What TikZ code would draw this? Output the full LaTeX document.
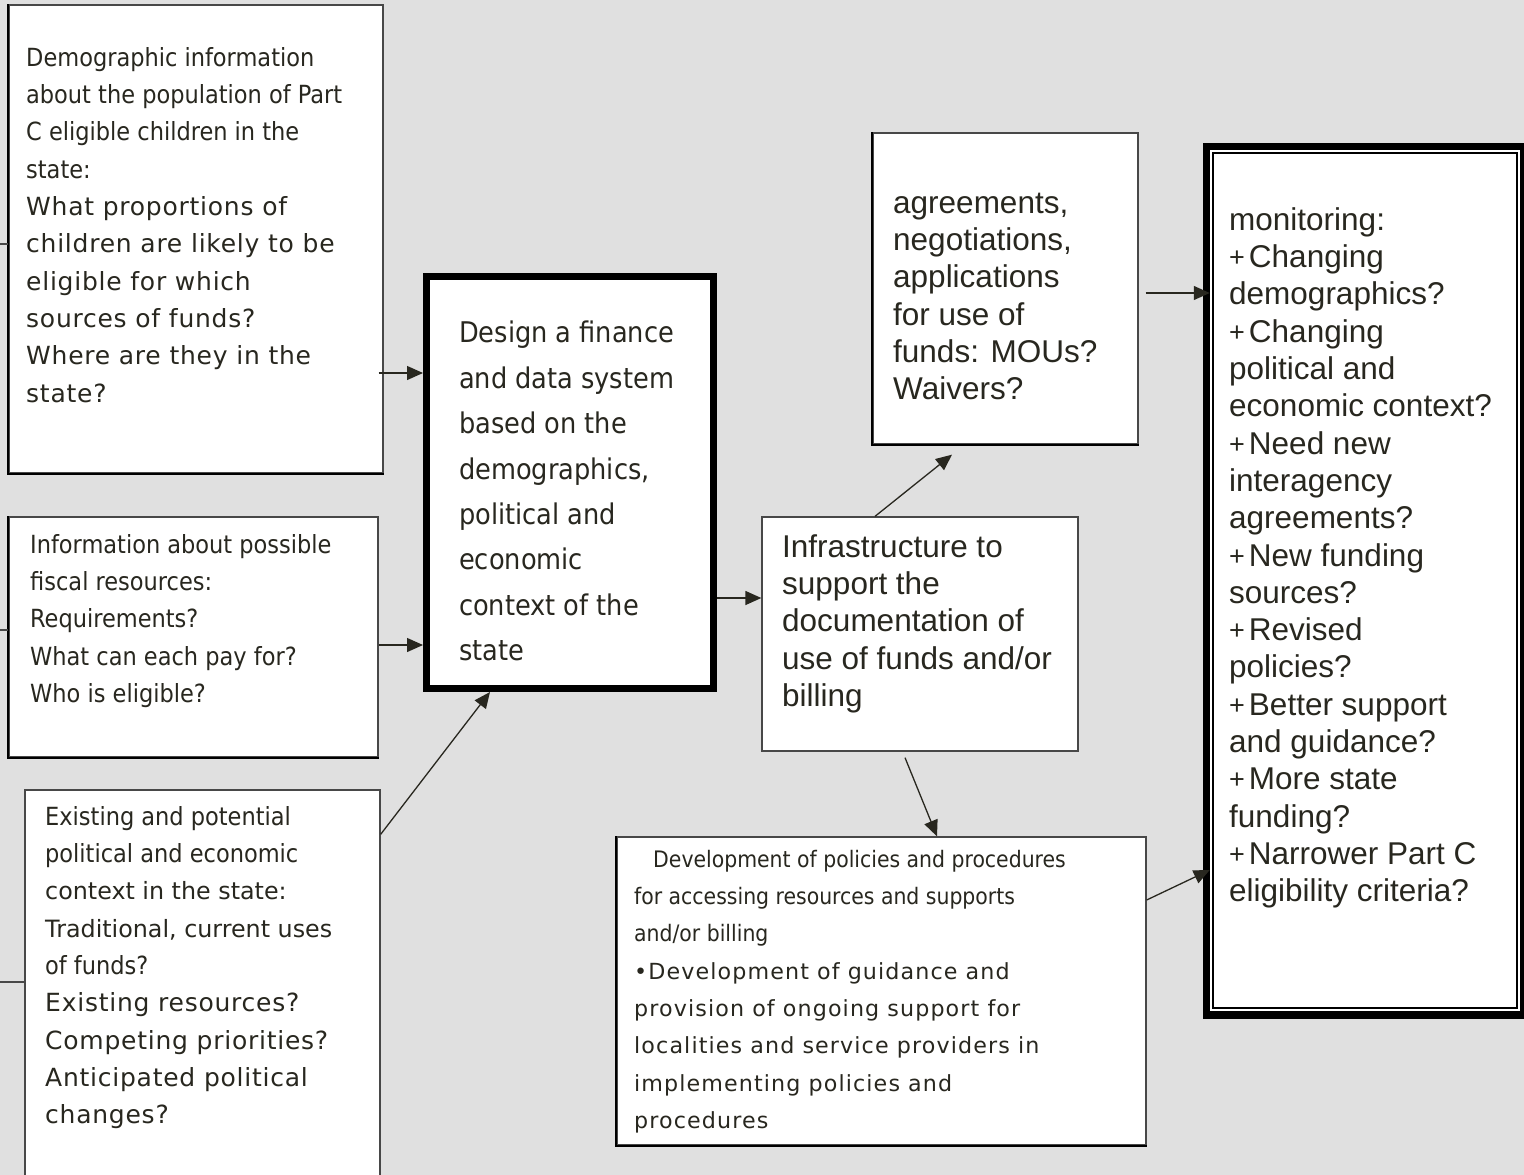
\documentclass[tikz,border=0pt]{standalone}
\usepackage{fontspec}
\setmainfont{Liberation Sans}
\newfontfamily\condfont{DejaVu Sans Condensed}
\newfontfamily\plainfont{DejaVu Sans}
\newfontfamily\widefont{DejaVu Sans}[LetterSpace=3]
\newfontfamily\widerfont{DejaVu Sans}[LetterSpace=5]
\usetikzlibrary{arrows.meta}

\definecolor{bg}{RGB}{224,224,224}
\definecolor{ink}{RGB}{40,39,31}
\definecolor{rim}{RGB}{72,72,72}

% line fonts
\newcommand\condA{\condfont\fontsize{25}{37.3}\selectfont}
\newcommand\wideA{\widefont\fontsize{25}{37.3}\selectfont}
\newcommand\plainA{\plainfont\fontsize{23.8}{37.3}\selectfont}
\newcommand\condG{\condfont\fontsize{22.7}{37.3}\selectfont}
\newcommand\wideG{\widerfont\fontsize{22.2}{37.3}\selectfont}
\newcommand\mainE{\rmfamily\fontsize{31.5}{37.3}\selectfont}
\newcommand\pl{\raisebox{1pt}{\fontsize{27}{27}\selectfont+}\kern4pt}

\tikzset{
  box/.style={draw=rim, line width=1.3pt, fill=white, inner sep=0pt, anchor=center},
  heavybox/.style={box, draw=black},
  txt/.style={inner sep=0pt, align=left, text=ink, anchor=north west,
              font=\fontsize{25}{37.3}\selectfont},
  conn/.style={draw=ink, line width=1.3pt, -{Triangle[length=16pt,width=14pt]}},
  stub/.style={draw=rim, line width=1.3pt},
  edge/.style={draw=black, line width=2.2pt}
}

\begin{document}
\begin{tikzpicture}[x=1pt, y=-1pt]
  \useasboundingbox (0,0) rectangle (1524,1175);
  \fill[bg] (0,0) rectangle (1524,1175);

  % input boxes
  \node[box, minimum width=374pt, minimum height=468pt] (A) at (196,239) {};
  \node[box, minimum width=369pt, minimum height=240pt] (B) at (193.5,637) {};
  \node[box, minimum width=355pt, minimum height=390pt] (C) at (202.5,985) {};
  % design box
  \node[heavybox, line width=7pt, minimum width=287pt, minimum height=412pt] (D) at (570,482.5) {};
  % infrastructure, agreements, policies
  \node[box, minimum width=316pt, minimum height=234pt] (E) at (920,634) {};
  \node[box, minimum width=265pt, minimum height=311pt] (F) at (1005.5,288.5) {};
  \node[box, minimum width=529pt, minimum height=308pt] (G) at (881.5,991) {};
  % monitoring box with double frame
  \node[heavybox, line width=7.5pt, minimum width=317pt, minimum height=868.5pt] (H) at (1365,580.75) {};
  \draw[black, line width=1.2pt] ([xshift=10.25pt,yshift=-10.25pt]H.north west)
        rectangle ([xshift=-10.25pt,yshift=10.75pt]H.south east);

  % darker left and bottom edges
  \draw[edge] (A.north west) -- (A.south west) -- (A.south east);
  \draw[edge] (B.north west) -- (B.south west) -- (B.south east);
  \draw[edge] (F.north west) -- (F.south west) -- (F.south east);
  \draw[edge] (G.north west) -- (G.south west) -- (G.south east);

  % stubs on the left margin
  \draw[stub] ([yshift=-5pt]A.west) -- ++(-10,0);
  \draw[stub] ([yshift=7pt]B.west) -- ++(-10,0);
  \draw[stub] ([yshift=3pt]C.west) -- ++(-26,0);

  % texts
  \node[txt] (At) at (26,40) {%
    \condA\strut Demographic information\\
    \condA about the population of Part\\
    \condA C eligible children in the\\
    \condA state:\\
    \wideA What proportions of\\
    \wideA children are likely to be\\
    \wideA eligible for which\\
    \wideA sources of funds?\\
    \wideA Where are they in the\\
    \wideA state?};

  \node[txt] (Bt) at (30,527) {%
    \condA\strut Information about possible\\
    \condA fiscal resources:\\
    \condA Requirements?\\
    \condA What can each pay for?\\
    \condA Who is eligible?};

  \node[txt] (Ct) at (45,799) {%
    \condA\strut Existing and potential\\
    \condA political and economic\\
    \plainA context in the state:\\
    \plainA Traditional, current uses\\
    \condA of funds?\\
    \wideA Existing resources?\\
    \wideA Competing priorities?\\
    \wideA Anticipated political\\
    \wideA changes?};

  \node[txt, font=\condfont\fontsize{28.5}{45.4}\selectfont] (Dt) at (459,311) {%
    \strut Design a finance\\
    and data system\\
    based on the\\
    demographics,\\
    political and\\
    economic\\
    context of the\\
    state};

  \node[txt] (Et) at (782,531) {%
    \mainE\strut Infrastructure to\\
    \mainE support the\\
    \mainE documentation of\\
    \mainE use of funds and/or\\
    \mainE billing};

  \node[txt] (Ft) at (893,187) {%
    \mainE\strut agreements,\\
    \mainE negotiations,\\
    \mainE applications\\
    \mainE for use of\\
    \mainE funds: MOUs?\\
    \mainE Waivers?};

  \node[txt] (Gt) at (634,841) {%
    \condG\strut\hspace*{19pt}Development of policies and procedures\\
    \condG for accessing resources and supports\\
    \condG and/or billing\\
    \wideG\textbullet Development of guidance and\\
    \wideG provision of ongoing support for\\
    \wideG localities and service providers in\\
    \wideG implementing policies and\\
    \wideG procedures};

  \node[txt] (Ht) at (1229,204) {%
    \mainE\strut monitoring:\\
    \mainE\pl Changing\\
    \mainE demographics?\\
    \mainE\pl Changing\\
    \mainE political and\\
    \mainE economic context?\\
    \mainE\pl Need new\\
    \mainE interagency\\
    \mainE agreements?\\
    \mainE\pl New funding\\
    \mainE sources?\\
    \mainE\pl Revised\\
    \mainE policies?\\
    \mainE\pl Better support\\
    \mainE and guidance?\\
    \mainE\pl More state\\
    \mainE funding?\\
    \mainE\pl Narrower Part C\\
    \mainE eligibility criteria?};

  % connectors
  \draw[conn] ([xshift=-5pt,yshift=-134pt]A.east) -- ([yshift=109.5pt]D.west);
  \draw[conn] ([yshift=-8pt]B.east) -- ([yshift=-162.5pt]D.west);
  \draw[conn] ([yshift=-45pt]C.north east) -- ([xshift=-80pt]D.south);
  \draw[conn] ([yshift=-115.5pt]D.east) -- ([yshift=36pt]E.west);
  \draw[conn] ([xshift=-45pt]E.north) -- ([xshift=-53.5pt,yshift=-10pt]F.south);
  \draw[conn] ([xshift=-15pt,yshift=-6pt]E.south) -- ([xshift=55.5pt]G.north);
  \draw[conn] ([xshift=7pt,yshift=-4.5pt]F.east) -- ([xshift=7pt,yshift=287.75pt]H.west);
  \draw[conn] ([yshift=91pt]G.east) -- ([xshift=7pt,yshift=-289.25pt]H.west);
\end{tikzpicture}
\end{document}
